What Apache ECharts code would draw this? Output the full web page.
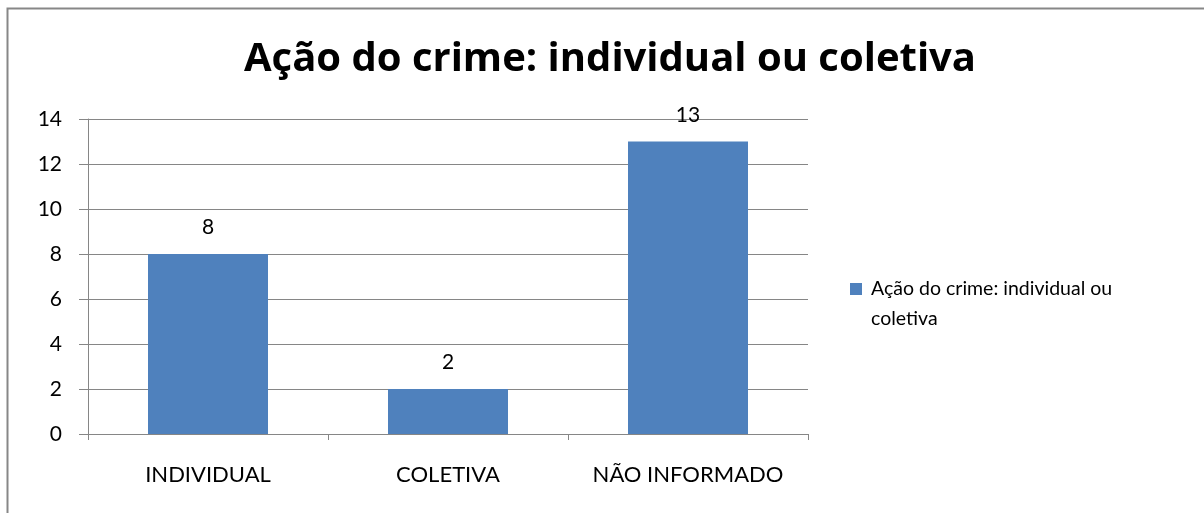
<!DOCTYPE html>
<html>
<head>
<meta charset="utf-8">
<script src="https://cdn.jsdelivr.net/npm/echarts@6/dist/echarts.min.js"></script>
<style>
  html, body { margin: 0; padding: 0; background: #fff; }
  #chart { width: 1204px; height: 513px; }
</style>
</head>
<body>
<div id="chart"></div>
<script>
// Chart data
const titleText = 'Ação do crime: individual ou coletiva';
const seriesName = 'Ação do crime: individual ou coletiva';
const categories = ['INDIVIDUAL', 'COLETIVA', 'NÃO INFORMADO'];
const values = [8, 2, 13];

const FONT = 'Lato, "Open Sans", sans-serif';
const TITLE_FONT = '"Open Sans", "Noto Sans", sans-serif';
const chart = echarts.init(document.getElementById('chart'), null, { renderer: 'canvas' });

chart.setOption({
  backgroundColor: '#fff',
  animation: false,
  graphic: [{
    type: 'rect',
    left: 5, top: 6,
    shape: { width: 1300, height: 600 },
    style: { fill: 'none', stroke: '#878787', lineWidth: 2 },
    silent: true
  }],
  title: {
    text: titleText,
    left: 605, top: 35,
    textAlign: 'center',
    textStyle: { fontFamily: TITLE_FONT, fontWeight: 'bold', fontSize: 40, color: '#000' }
  },
  legend: {
    left: 845, top: 239,
    itemWidth: 12, itemHeight: 12, itemGap: 0,
    icon: 'rect',
    // leading blank line keeps the swatch level with the first text line
    formatter: () => ' \nAção do crime: individual ou\ncoletiva',
    textStyle: { fontFamily: FONT, fontSize: 19.5, color: '#000', lineHeight: 30, padding: [0, 0, 0, 4] }
  },
  grid: { left: 88, right: 396, top: 119, bottom: 79, containLabel: false },
  xAxis: {
    type: 'category',
    data: categories,
    axisLine: { lineStyle: { color: '#868686', width: 1 } },
    axisTick: { show: true, interval: 0, length: 6, lineStyle: { color: '#868686' } },
    axisLabel: { interval: 0, fontFamily: FONT, fontSize: 22, color: '#000', margin: 30 }
  },
  yAxis: {
    type: 'value',
    min: 0, max: 14, interval: 2,
    axisLine: { show: true, lineStyle: { color: '#868686', width: 1 } },
    axisTick: { show: true, length: 9, lineStyle: { color: '#868686' } },
    splitLine: { lineStyle: { color: '#868686', width: 1 } },
    axisLabel: { fontFamily: FONT, fontSize: 21, color: '#000', margin: 26 }
  },
  series: [{
    name: seriesName,
    type: 'bar',
    data: values,
    barWidth: '50%',
    itemStyle: { color: '#4F81BD' },
    label: {
      show: true, position: 'top', distance: 16,
      fontFamily: FONT, fontSize: 21, color: '#000'
    }
  }]
});
</script>
</body>
</html>
